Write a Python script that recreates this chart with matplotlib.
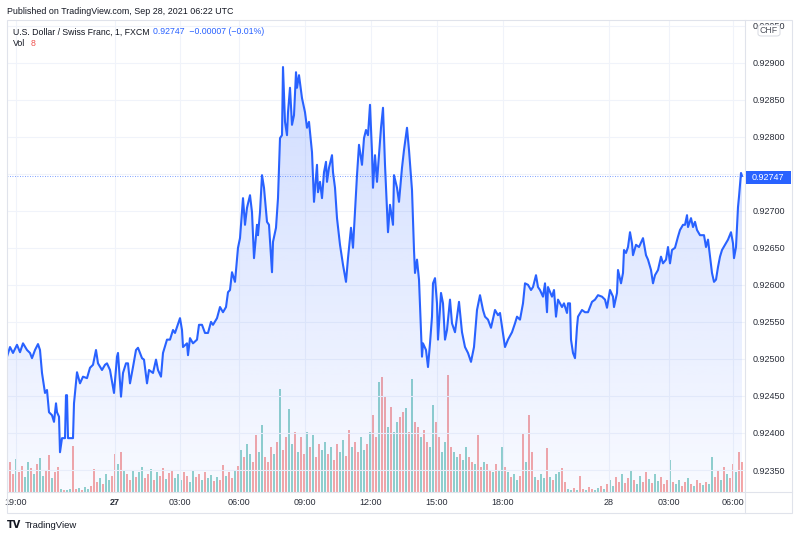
import numpy as np
import matplotlib.pyplot as plt
from matplotlib.colors import to_rgb
from matplotlib.patches import Rectangle, FancyBboxPatch
from matplotlib.lines import Line2D

plt.rcParams['font.family'] = ['Liberation Sans', 'DejaVu Sans']

# USDCHF 1 min, bar positions along the time axis + close prices
t_night = [7, 10, 13, 17, 20, 23, 27, 30, 32, 35, 38, 40, 42, 45, 47, 49, 52, 54, 56, 57,
           59, 60, 62, 65, 66, 67, 68, 73, 74, 77, 80, 83, 87, 90, 93, 96, 98, 102, 105, 107,
           110, 114, 117, 118, 121, 123, 126, 128, 130, 133, 136, 138, 142, 144, 147, 149, 153, 156, 158, 161,
           163, 167, 170, 173, 175, 180, 182, 183, 187, 188, 190, 193, 197, 199, 202, 205, 208, 211, 213, 217,
           220, 223, 226, 228, 230]
p_night = [.92503, .92516, .92508, .92519, .92509, .92521, .92512, .92508, .92501, .92512,
           .92520, .92512, .92481, .92454, .92458, .92428, .92424, .92415, .92440, .92428,
           .92422, .92374, .92393, .92393, .92451, .92451, .92393, .92393, .92440, .92482,
           .92467, .92476, .92474, .92488, .92492, .92512, .92494, .92485, .92492, .92494,
           .92485, .92454, .92503, .92508, .92449, .92481, .92494, .92494, .92467, .92489,
           .92512, .92515, .92501, .92499, .92467, .92485, .92481, .92499, .92485, .92476,
           .92508, .92526, .92526, .92539, .92535, .92555, .92539, .92516, .92521, .92505,
           .92528, .92521, .92526, .92546, .92546, .92535, .92535, .92550, .92546, .92555,
           .92570, .92563, .92570, .92590, .92593]

t_europe = [232, 235, 238, 240, 243, 245, 247, 250, 252, 254, 257, 258, 260, 262, 264, 267, 269, 272, 273, 276,
            278, 280, 282, 283, 285, 287, 288, 290, 292, 294, 296, 297, 299, 302, 305, 307, 309, 312, 314, 317,
            318, 320, 322, 324, 326, 327, 329, 332, 333, 335, 337, 340, 343, 346, 348, 351, 353, 355, 357, 359,
            362, 364, 366, 368, 370, 372, 373, 375, 377, 379, 381, 383, 385, 388, 390, 393, 394, 397, 399, 402]
p_europe = [.92617, .92604, .92650, .92663, .92717, .92681, .92704, .92721, .92698, .92636,
            .92681, .92667, .92698, .92748, .92731, .92685, .92681, .92617, .92658, .92677,
            .92717, .92798, .92802, .92894, .92820, .92802, .92833, .92866, .92816, .92829,
            .92887, .92866, .92883, .92852, .92833, .92812, .92820, .92779, .92712, .92762,
            .92725, .92739, .92717, .92752, .92766, .92739, .92758, .92775, .92752, .92731,
            .92690, .92654, .92627, .92604, .92636, .92677, .92650, .92698, .92748, .92789,
            .92762, .92798, .92809, .92802, .92843, .92779, .92731, .92775, .92739, .92775,
            .92812, .92839, .92762, .92671, .92708, .92681, .92748, .92731, .92712, .92758]

t_us = [404, 407, 409, 412, 414, 415, 417, 419, 422, 423, 426, 428, 430, 432, 433, 435, 437, 438, 441, 443,
        445, 447, 450, 452, 455, 457, 459, 462, 465, 468, 471, 474, 477, 480, 483, 485, 488, 491, 495, 498,
        500, 503, 505, 508, 512, 515, 517, 520, 523, 525, 528, 531, 533, 536, 538, 540, 543, 545, 547, 548,
        552, 554, 556, 558, 562, 564, 567, 568, 570, 571, 573, 575, 577, 578, 582, 585, 588, 592, 595, 598]
p_us = [.92782, .92812, .92782, .92728, .92647, .92616, .92634, .92607, .92503, .92521,
        .92512, .92489, .92521, .92557, .92602, .92609, .92575, .92526, .92589, .92575,
        .92526, .92539, .92580, .92548, .92536, .92557, .92577, .92536, .92516, .92508,
        .92496, .92516, .92566, .92586, .92566, .92557, .92553, .92542, .92566, .92559,
        .92562, .92535, .92516, .92526, .92536, .92548, .92557, .92553, .92575, .92602,
        .92600, .92593, .92597, .92613, .92597, .92593, .92584, .92602, .92563, .92597,
        .92584, .92593, .92557, .92580, .92570, .92575, .92562, .92575, .92575, .92526,
        .92508, .92501, .92543, .92557, .92566, .92563, .92563, .92577, .92580, .92586]

t_asia = [602, 605, 607, 610, 613, 614, 617, 618, 621, 623, 624, 626, 628, 630, 632, 633, 636, 639, 643, 646,
          648, 651, 653, 655, 658, 661, 663, 666, 668, 670, 672, 675, 678, 680, 683, 685, 687, 688, 691, 693,
          695, 697, 700, 704, 706, 708, 710, 712, 714, 716, 718, 720, 722, 725, 728, 731, 733, 734, 736, 737,
          738, 739, 741, 742]
p_asia = [.92584, .92580, .92569, .92593, .92584, .92570, .92589, .92620, .92602, .92616,
          .92647, .92643, .92651, .92671, .92656, .92640, .92654, .92651, .92663, .92640,
          .92634, .92620, .92602, .92613, .92620, .92638, .92629, .92634, .92651, .92629,
          .92647, .92650, .92665, .92674, .92681, .92681, .92694, .92678, .92690, .92678,
          .92685, .92674, .92667, .92667, .92651, .92661, .92638, .92616, .92604, .92607,
          .92624, .92638, .92647, .92654, .92661, .92671, .92656, .92636, .92651, .92678,
          .92705, .92719, .92751, .92747]

# volume (one bar every 3 positions from 7 to 742)
vol = [22, 30, 18, 33, 20, 26, 15, 30, 24, 18, 28, 34, 16, 22, 37, 14, 20, 25,
       3, 2, 2, 3, 46, 3, 4, 2, 5, 3, 6, 23, 10, 14, 8, 18, 12, 16, 38, 28, 40, 22,
       18, 12, 22, 15, 20, 25, 14, 18, 23, 12, 20, 16, 24, 13, 19, 22,
       14, 18, 12, 20, 16, 10, 22, 15, 18, 12, 20, 14, 17, 11,
       15, 12, 27, 16, 20, 14, 22, 26, 42, 35, 48, 38, 30, 57,
       40, 67, 35, 30, 45, 38, 50, 103, 42, 55, 83, 48, 60, 40,
       55, 38, 60, 45, 57, 35, 48, 42, 50, 38, 45, 32, 48, 40, 52, 36,
       62, 45, 50, 40, 55, 42, 48, 60,
       77, 55, 110, 115, 95, 65, 85, 60, 70, 75,
       80, 84, 60, 113, 70, 65, 55, 62, 50, 45,
       87, 70, 55, 40, 50, 117, 45, 40, 35, 38,
       32, 45, 35, 30, 28, 57, 25, 30, 28, 22, 20, 28, 22,
       45, 25, 20, 15, 18, 12, 16, 58, 30, 77, 40, 15, 12, 18, 14, 44,
       15, 12, 18, 20, 24, 10,
       3, 2, 4, 2, 16, 3, 2, 5, 3, 2, 4, 6, 3,
       8, 12, 6, 15, 10, 18, 9, 14, 22, 12, 8, 16, 10, 20, 13, 9, 18, 11, 15, 8, 12,
       32, 10, 8, 12, 6, 10, 14, 8, 6, 12, 9, 7, 10, 8,
       35, 15, 22, 12, 25, 18, 14, 28, 20, 40, 30]
vol_dir = ("uddudduudu" "duudduddud" "uudduduudd" "duduuddudu" "dduduuddud"
           "uddudduuud" "duudduduud" "udduddudud" "uudduudddu" "dudduududd"
           "ududduudud" "duuddudduu" "dudduddudu" "uddududdud" "duudduuddu"
           "uduudduddu" "dduduududu" "uddudduduu" "duduudduud" "uddudduudu"
           "duudduddud" "uudduduudd" "duduuddudu" "dduduuddud" "uddudduuud")

price_ticks = [0.92350, 0.92400, 0.92450, 0.92500, 0.92550, 0.92600, 0.92650,
               0.92700, 0.92750, 0.92800, 0.92850, 0.92900, 0.92950]
time_pos = [16, 115, 180, 239, 305, 371, 437, 503, 609, 669, 733]
time_lbl = ["19:00", "27", "03:00", "06:00", "09:00", "12:00", "15:00", "18:00", "28", "03:00", "06:00"]
last_price = 0.92747

t = t_night + t_europe + t_us + t_asia
price = p_night + p_europe + p_us + p_asia
vol_t = np.arange(7, 743, 3)

W, H = 800, 538
fig = plt.figure(figsize=(8, 5.38), dpi=100)
fig.patch.set_facecolor('white')

def fx(px):
    return px / W

def fy(py):
    return 1 - py / H

L, R, T, B = 7, 745, 20, 492
rect = [fx(L), fy(B), (R - L) / W, (B - T) / H]
ymin, ymax = 0.923203, 0.929575

# volume pane below the price line
axv = fig.add_axes(rect, zorder=0)
up = (38/255, 166/255, 154/255, 0.5)
dn = (239/255, 83/255, 80/255, 0.5)
cols = [up if c == 'u' else dn for c in vol_dir[:len(vol)]]
axv.bar(vol_t, vol, width=2.7, color=cols, linewidth=0)
axv.set_xlim(L, R)
axv.set_ylim(0, B - T)
axv.axis('off')

ax = fig.add_axes(rect, zorder=1)
ax.patch.set_alpha(0)
ax.set_xlim(L, R)
ax.set_ylim(ymin, ymax)

for x in time_pos:
    ax.axvline(x, color='#f0f3fa', lw=0.8, zorder=0)
for y in price_ticks:
    ax.axhline(y, color='#f0f3fa', lw=0.8, zorder=0)

# gradient area
grad = np.zeros((256, 1, 4))
grad[..., :3] = to_rgb('#2962FF')
grad[:, 0, 3] = np.linspace(0.22, 0.03, 256)
im = ax.imshow(grad, extent=[t[0], t[-1], ymin, max(price)], aspect='auto',
               origin='upper', zorder=1, interpolation='bicubic')
area = ax.fill_between(t, price, ymin, facecolor='none', edgecolor='none')
im.set_clip_path(area.get_paths()[0], transform=ax.transData)

ax.plot(t, price, color='#2962FF', lw=1.5, zorder=3, solid_joinstyle='round')
ax.axhline(last_price, color='#2962FF', lw=0.6, ls=(0, (1, 2)), alpha=0.8, zorder=2)

for s in ax.spines.values():
    s.set_visible(False)
ax.yaxis.tick_right()
ax.set_yticks(price_ticks)
# the 0.92750 label sits under the last-price tag
ax.set_yticklabels(["" if abs(v - 0.9275) < 1e-9 else "%.5f" % v for v in price_ticks])
ax.tick_params(axis='y', length=0, pad=5.5, labelsize=6.5, labelcolor='#2a2e39')
ax.set_xticks(time_pos)
ax.set_xticklabels(time_lbl)
ax.tick_params(axis='x', length=0, pad=4.5, labelsize=6.5, labelcolor='#2a2e39')
ax.get_xticklabels()[1].set_fontweight('bold')

# frame
fc = '#e0e3eb'
fig.add_artist(Rectangle((fx(7), fy(513)), (792 - 7) / W, (513 - 20) / H,
                         transform=fig.transFigure, fill=False, ec=fc, lw=0.8, zorder=4))
fig.add_artist(Line2D([fx(745), fx(745)], [fy(20), fy(513)], color=fc, lw=0.8, zorder=4))
fig.add_artist(Line2D([fx(7), fx(792)], [fy(492), fy(492)], color=fc, lw=0.8, zorder=4))

# last price tag
fig.add_artist(Rectangle((fx(746), fy(184)), 45 / W, 13 / H, transform=fig.transFigure,
                         fc='#2962FF', ec='none', zorder=5))
fig.text(fx(768), fy(177.5), "%.5f" % last_price, color='white', fontsize=6.5,
         ha='center', va='center', zorder=6)

# currency badge
fig.add_artist(FancyBboxPatch((fx(758), fy(36)), 22 / W, 11 / H, transform=fig.transFigure,
                              boxstyle='round,pad=0,rounding_size=0.004', fc='white',
                              ec='#d1d4dc', lw=0.6, zorder=5))
fig.text(fx(769), fy(30.5), "CHF", color='#50535e', fontsize=6.3, ha='center', va='center', zorder=6)

# header
fig.text(fx(7), fy(12), "Published on TradingView.com, Sep 28, 2021 06:22 UTC",
         color='#131722', fontsize=6.4, va='center')
fig.text(fx(13), fy(32), "U.S. Dollar / Swiss Franc, 1, FXCM", color='#131722', fontsize=6.3, va='center')
fig.text(fx(153), fy(32), "0.92747  \u22120.00007 (\u22120.01%)", color='#2962FF', fontsize=6.3, va='center')
fig.text(fx(13), fy(43.5), "Vol", color='#131722', fontsize=6.3, va='center')
fig.text(fx(31), fy(43.5), "8", color='#ef5350', fontsize=6.3, va='center')

# footer logo
fig.text(fx(7), fy(525), "TV", color='#131722', fontsize=7, fontweight='bold',
         va='center', family='DejaVu Sans')
fig.text(fx(25), fy(525), "TradingView", color='#131722', fontsize=6.8, va='center')

fig.savefig('out.png', dpi=100)
